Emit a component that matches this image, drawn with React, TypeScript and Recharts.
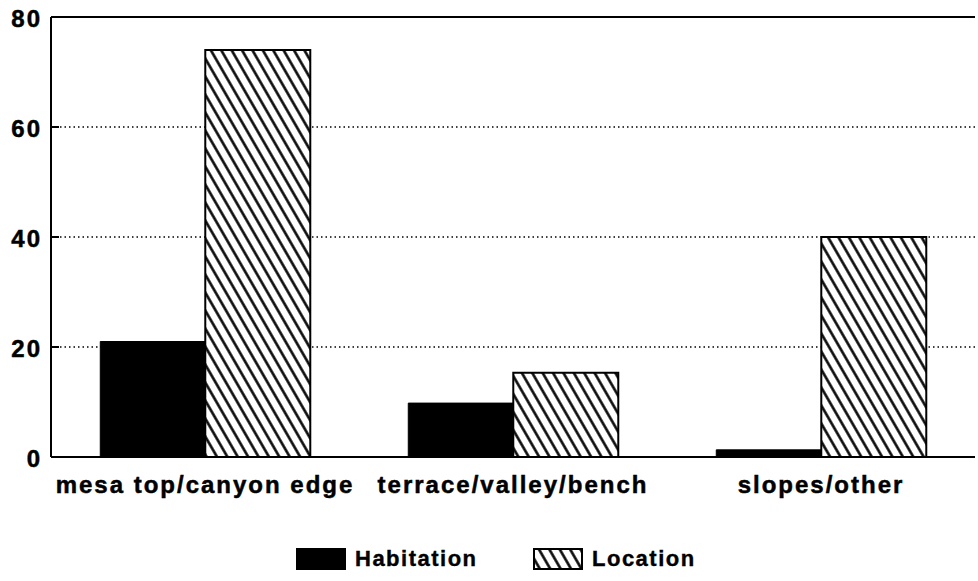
import React from 'react';
import {
  BarChart,
  Bar,
  XAxis,
  YAxis,
  CartesianGrid,
  ReferenceLine,
} from 'recharts';

const categories = ['mesa top/canyon edge', 'terrace/valley/bench', 'slopes/other'];
const habitation = [21, 9.8, 1.3];
const location = [74, 15.3, 40];
const yTicks = [0, 20, 40, 60, 80];

const rows = categories.map((name, i) => ({
  name,
  habitation: habitation[i],
  location: location[i],
}));

const FONT = '"Liberation Sans", Arial, Helvetica, sans-serif';

function XTick({ x, y, payload }: any) {
  return (
    <text
      x={x}
      y={y}
      dy={36}
      textAnchor="middle"
      stroke="#000"
      strokeWidth={0.5}
      style={{ fontFamily: FONT, fontWeight: 700, fontSize: 24, letterSpacing: 2 }}
      fill="#000"
    >
      {payload.value}
    </text>
  );
}

function YTick({ x, y, payload }: any) {
  return (
    <g>
      {payload.value !== 0 && payload.value !== 80 && (
        <line x1={x} y1={y} x2={x + 8} y2={y} stroke="#000" strokeWidth={2} />
      )}
      <text
        x={x - 9}
        y={y}
        dy={10}
        textAnchor="end"
        stroke="#000"
        strokeWidth={0.5}
        style={{ fontFamily: FONT, fontWeight: 700, fontSize: 24, letterSpacing: 2 }}
        fill="#000"
      >
        {payload.value}
      </text>
    </g>
  );
}

function LegendBox({ fill, label, left }: { fill: string; label: string; left: number }) {
  return (
    <span style={{ position: 'absolute', left, top: 0, display: 'flex', alignItems: 'center', gap: 9 }}>
      <svg width={50} height={22} style={{ display: 'block' }}>
        <rect x={1} y={1} width={48} height={20} fill={fill} stroke="#000" strokeWidth={2} />
      </svg>
      <span
        style={{
          fontFamily: FONT,
          fontWeight: 700,
          fontSize: 22,
          letterSpacing: 1.5,
          WebkitTextStroke: '0.4px #000',
          whiteSpace: 'nowrap',
        }}
      >
        {label}
      </span>
    </span>
  );
}

export default function App() {
  return (
    <div style={{ position: 'absolute', left: 0, top: 0, width: 978, height: 581, background: '#fff' }}>
      <svg width={0} height={0} style={{ position: 'absolute' }}>
        <defs>
          <pattern
            id="hatch"
            patternUnits="userSpaceOnUse"
            width={9}
            height={9}
            patternTransform="rotate(-30)"
          >
            <rect width={9} height={9} fill="#fff" />
            <line x1={4.5} y1={0} x2={4.5} y2={9} stroke="#000" strokeWidth={2.5} />
          </pattern>
        </defs>
      </svg>
      <BarChart
        width={978}
        height={520}
        data={rows}
        margin={{ top: 17, right: 3, left: 0, bottom: 3 }}
        barCategoryGap="16%"
        barGap={0}
      >
        <CartesianGrid
          vertical={false}
          stroke="#000"
          strokeWidth={1.5}
          strokeDasharray="1.5 3"
        />
        <ReferenceLine y={80} stroke="#000" strokeWidth={2} ifOverflow="extendDomain" />
        <XAxis
          dataKey="name"
          height={60}
          tickLine={false}
          tickSize={0}
          tickMargin={0}
          axisLine={{ stroke: '#000', strokeWidth: 2 }}
          tick={<XTick />}
          interval={0}
        />
        <YAxis
          width={51}
          domain={[0, 80]}
          ticks={yTicks}
          tickLine={false}
          tickSize={0}
          tickMargin={0}
          axisLine={{ stroke: '#000', strokeWidth: 2 }}
          tick={<YTick />}
        />
        <YAxis
          yAxisId="right"
          orientation="right"
          width={0}
          domain={[0, 80]}
          tick={false}
          tickLine={false}
          axisLine={{ stroke: '#000', strokeWidth: 2 }}
        />
        <Bar dataKey="habitation" fill="#000" stroke="#000" strokeWidth={1} isAnimationActive={false} />
        <Bar dataKey="location" fill="url(#hatch)" stroke="#000" strokeWidth={2} isAnimationActive={false} />
      </BarChart>
      <div style={{ position: 'absolute', top: 546, left: 0, width: 978, height: 24 }}>
        <LegendBox fill="#000" label="Habitation" left={296} />
        <LegendBox fill="url(#hatch)" label="Location" left={533} />
      </div>
    </div>
  );
}
